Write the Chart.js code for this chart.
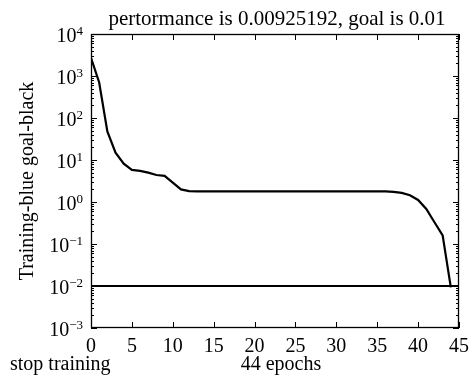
<!DOCTYPE html>
<html>
<head>
<meta charset="utf-8">
<script src="https://cdn.jsdelivr.net/npm/chart.js@4.4.1/dist/chart.umd.min.js"></script>
<style>
  html, body { margin: 0; padding: 0; background: #fff; }
  #wrap { width: 476px; height: 376px; }
</style>
</head>
<body>
<div id="wrap"><canvas id="chart" width="476" height="376"></canvas></div>
<script>
// training record
const EPOCHS = [0, 1, 2, 3, 4, 5, 6, 7, 8, 9, 10, 11, 12, 13, 14, 15, 16, 17, 18, 19, 20, 21, 22,
  23, 24, 25, 26, 27, 28, 29, 30, 31, 32, 33, 34, 35, 36, 37, 38, 39, 40, 41, 42, 43, 44]
const PERF = [2700, 700, 48, 15, 8.2, 5.8, 5.5, 5.0, 4.4, 4.2, 2.9, 2.0, 1.82, 1.8, 1.8, 1.8, 1.8,
  1.8, 1.8, 1.8, 1.8, 1.8, 1.8, 1.8, 1.8, 1.8, 1.8, 1.8, 1.8, 1.8, 1.8, 1.8, 1.8, 1.8, 1.8, 1.8,
  1.79, 1.75, 1.65, 1.45, 1.12, 0.68, 0.33, 0.16, 0.00925192]
const GOAL_X = [0, 45]
const GOAL_Y = [0.01, 0.01]

const X_TICKS = [0, 5, 10, 15, 20, 25, 30, 35, 40, 45]
const Y_EXPONENTS = [-3, -2, -1, 0, 1, 2, 3, 4]

const TITLE = 'pertormance is 0.00925192, goal is 0.01'
const Y_LABEL = 'Training-blue goal-black'
const X_LABEL = '44 epochs'
const STOP_LABEL = 'stop training'

const SERIF = "'Liberation Serif', 'Times New Roman', serif"
const INK = '#000'

// frame, inward ticks, log labels and loose texts (MATLAB look)
const matlabFrame = {
  id: 'matlabFrame',
  afterDraw(chart) {
    const { ctx, chartArea: a, scales: { x, y } } = chart
    ctx.save()
    ctx.strokeStyle = INK
    ctx.lineWidth = 1.3
    ctx.strokeRect(a.left + 0.5, a.top + 0.5, a.right - a.left - 1, a.bottom - a.top - 1)

    ctx.lineWidth = 1
    ctx.beginPath()
    for (const t of X_TICKS) {
      const px = Math.round(x.getPixelForValue(t)) + 0.5
      ctx.moveTo(px, a.bottom); ctx.lineTo(px, a.bottom - 6)
      ctx.moveTo(px, a.top); ctx.lineTo(px, a.top + 6)
    }
    for (const e of Y_EXPONENTS) {
      const py = Math.round(y.getPixelForValue(10 ** e)) + 0.5
      ctx.moveTo(a.left, py); ctx.lineTo(a.left + 6, py)
      ctx.moveTo(a.right, py); ctx.lineTo(a.right - 6, py)
      if (e === 4) continue
      for (let k = 2; k <= 9; k++) {
        const my = Math.round(y.getPixelForValue(k * 10 ** e)) + 0.5
        ctx.moveTo(a.left, my); ctx.lineTo(a.left + 3, my)
        ctx.moveTo(a.right, my); ctx.lineTo(a.right - 3, my)
      }
    }
    ctx.stroke()

    // y labels as 10^n
    ctx.fillStyle = INK
    ctx.textBaseline = 'alphabetic'
    ctx.textAlign = 'left'
    for (const e of Y_EXPONENTS) {
      const py = y.getPixelForValue(10 ** e)
      const exp = e < 0 ? '\u2212' + (-e) : String(e)
      ctx.font = `13px ${SERIF}`
      const we = ctx.measureText(exp).width
      ctx.font = `20px ${SERIF}`
      const wb = ctx.measureText('10').width
      const right = 83
      ctx.fillText('10', right - we - wb, py + 8)
      ctx.font = `13px ${SERIF}`
      ctx.fillText(exp, right - we, py + 1)
    }

    ctx.font = `21px ${SERIF}`
    ctx.textAlign = 'center'
    ctx.fillText(TITLE, (a.left + a.right) / 2 + 2, 25)
    ctx.font = `20px ${SERIF}`
    ctx.fillText(X_LABEL, 281, 370)
    ctx.textAlign = 'left'
    ctx.fillText(STOP_LABEL, 10, 370)

    ctx.translate(28, (a.top + a.bottom) / 2)
    ctx.rotate(-Math.PI / 2)
    ctx.textAlign = 'center'
    ctx.textBaseline = 'middle'
    ctx.fillText(Y_LABEL, 0, 0)
    ctx.restore()
  }
}

new Chart(document.getElementById('chart'), {
  type: 'line',
  data: {
    datasets: [
      {
        label: 'Training',
        data: EPOCHS.map((e, i) => ({ x: e, y: PERF[i] })),
        borderColor: INK,
        borderWidth: 2.2,
        pointRadius: 0,
        tension: 0,
        fill: false,
      },
      {
        label: 'Goal',
        data: GOAL_X.map((g, i) => ({ x: g, y: GOAL_Y[i] })),
        borderColor: INK,
        borderWidth: 2.2,
        pointRadius: 0,
        fill: false,
      },
    ],
  },
  options: {
    responsive: false,
    animation: false,
    layout: { padding: { left: 0, right: 12, top: 34, bottom: 0 } },
    scales: {
      x: {
        type: 'linear',
        min: 0,
        max: 45,
        grid: { display: false, drawTicks: false },
        border: { display: false },
        afterBuildTicks: s => { s.ticks = X_TICKS.map(v => ({ value: v })) },
        afterFit: s => { s.height = 48 },
        ticks: {
          color: INK,
          padding: 7,
          maxRotation: 0,
          autoSkip: false,
          font: { family: SERIF, size: 20 },
        },
      },
      y: {
        type: 'logarithmic',
        min: 1e-3,
        max: 1e4,
        grid: { display: false, drawTicks: false },
        border: { display: false },
        afterBuildTicks: s => { s.ticks = Y_EXPONENTS.map(e => ({ value: 10 ** e })) },
        afterFit: s => { s.width = 91 },
        ticks: { display: false },
      },
    },
    plugins: {
      legend: { display: false },
      tooltip: { enabled: false },
    },
  },
  plugins: [matlabFrame],
})
</script>
</body>
</html>
